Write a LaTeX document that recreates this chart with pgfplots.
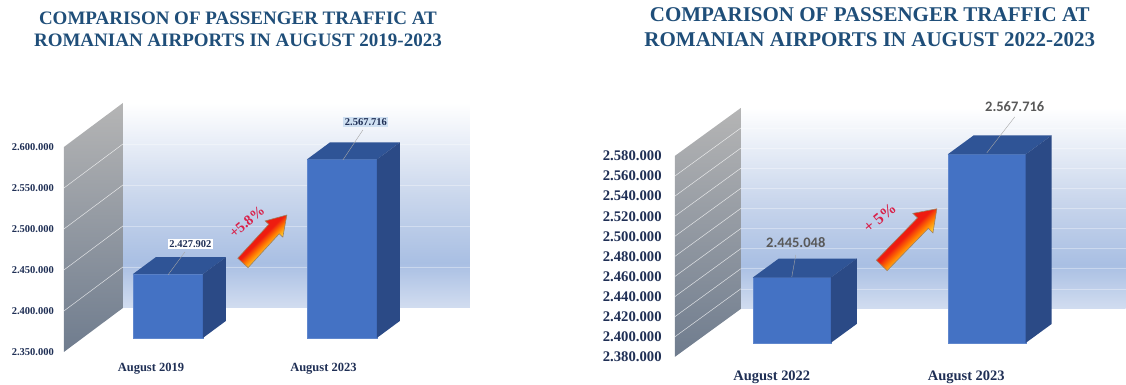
\documentclass[border=0pt]{standalone}
\usepackage{fontspec}
\setmainfont{Liberation Serif}
\newfontfamily\carlito{Carlito}
\usepackage{pgfplots}
\pgfplotsset{compat=1.18}

\definecolor{titleblue}{HTML}{1F4E79}
\definecolor{ticknavy}{HTML}{1F2F55}
\definecolor{barfront}{HTML}{4472C4}
\definecolor{bartop}{HTML}{2F5496}
\definecolor{barside}{HTML}{2B4A86}
\definecolor{valuegray}{HTML}{595959}
\definecolor{gainred}{HTML}{D9214A}
\definecolor{labelblue}{HTML}{CFE0F2}
\definecolor{arrowred}{HTML}{EE1C10}
\definecolor{arroworange}{HTML}{FF7A00}
\definecolor{arrowyellow}{HTML}{FFC62A}

% Back wall and side wall of the chart box (25bp..75bp spans the filled path)
\definecolor{backA}{HTML}{D2DDF0}
\definecolor{backB}{HTML}{A9BFE3}
\definecolor{backC}{HTML}{C9D6EC}
\definecolor{sideA}{HTML}{6F7C8E}
\definecolor{sideB}{HTML}{B5B5B5}
\pgfdeclareverticalshading{backwall}{100bp}{color(0bp)=(backA); color(25bp)=(backA); color(36bp)=(backB); color(52bp)=(backC); color(75bp)=(white); color(100bp)=(white)}
\pgfdeclareverticalshading{sidewall}{100bp}{color(0bp)=(sideA); color(25bp)=(sideA); color(75bp)=(sideB); color(100bp)=(sideB)}
% Tight colour band across the shaft of the gain arrows
\pgfdeclareverticalshading{gainfade}{100bp}{color(0bp)=(arrowyellow); color(41bp)=(arrowyellow); color(47bp)=(arroworange); color(53bp)=(arrowred); color(100bp)=(arrowred)}

\pgfplotsset{
  panel/.style={
    scale only axis, clip=false, scaled y ticks=false,
    axis line style={draw=none}, tick style={draw=none}, major tick length=0pt,
    /pgf/number format/fixed,
    /pgf/number format/precision=0,
    /pgf/number format/1000 sep={.},
    /pgf/number format/assume math mode=true,
  },
}

% One bar: front face, top face and side face
% #1,#2 front left/right x; #3,#4 rear left/right x; #5,#6 base and value; #7,#8 the same at the rear
\newcommand{\barbox}[8]{%
  \addplot[fill=barfront, draw=barfront!85!white, line width=0.4pt] coordinates {(#1,#5) (#2,#5) (#2,#6) (#1,#6)} -- cycle;
  \addplot[fill=bartop, draw=none] coordinates {(#1,#6) (#2,#6) (#4,#8) (#3,#8)} -- cycle;
  \addplot[fill=barside, draw=none] coordinates {(#2,#5) (#4,#7) (#4,#8) (#2,#6)} -- cycle;
}
% One grid line across the side wall and the back wall
% #1 front value, #2 the same level on the back wall, #3 wall corner x, #4 front x, #5 right end
\newcommand{\wallline}[5]{%
  \addplot[white, line width=0.5pt, opacity=0.75] coordinates {(#4,#1) (#3,#2)};
  \addplot[white, line width=0.6pt, opacity=0.35] coordinates {(#3,#2) (#5,#2)};
}
% Block arrow along the local x axis, length #1, shaft half-width #2, head half-width #3, head length #4
\newcommand{\gainarrow}[4]{%
  \path[shade, shading=gainfade, shading angle=45, draw=brown!50!gray, line width=0.6pt]
    (0,-#2) -- ({#1-#4},-#2) -- ({#1-#4},-#3) -- (#1,0) -- ({#1-#4},#3) -- ({#1-#4},#2) -- (0,#2) -- cycle;
}

\begin{document}
\begin{tikzpicture}[x=1pt, y=1pt]
\path (0,0) rectangle (1126,385);

% ---- left panel: August 2019 against August 2023 ----
\begin{axis}[panel, at={(64pt,33pt)}, anchor=south west, width=406pt, height=252pt,
    xmin=64, xmax=470, ymin=2350000, ymax=2657317,
    xtick={151,323.5}, xticklabels={August 2019,August 2023},
    ytick={2350000,2400000,2450000,2500000,2550000,2600000},
    yticklabel style={font=\fontsize{10.5}{12}\selectfont\bfseries, text=ticknavy, anchor=east, inner sep=0pt, xshift=-10pt},
    xticklabel style={font=\fontsize{12.5}{14}\selectfont\bfseries, text=ticknavy, anchor=center, inner sep=0pt, yshift=-16.5pt}]
  \path[shade, shading=backwall] (axis cs:123,2403660) rectangle (axis cs:470,2653660);
  \path[shade, shading=sidewall] (axis cs:64,2350000) -- (axis cs:123,2403660) -- (axis cs:123,2653660) -- (axis cs:64,2600000) -- cycle;
  \wallline{2400000}{2453660}{123}{64}{470}
  \wallline{2450000}{2503660}{123}{64}{470}
  \wallline{2500000}{2553660}{123}{64}{470}
  \wallline{2550000}{2603660}{123}{64}{470}
\end{axis}
\begin{axis}[panel, hide axis, at={(64pt,33pt)}, anchor=south west, width=406pt, height=252pt,
    xmin=64, xmax=470, ymin=2332927, ymax=2640244]
  \barbox{133}{203}{156}{226}{2350000}{2427902}{2370730}{2448632}
  \barbox{307}{377}{330}{400}{2350000}{2567716}{2370730}{2588446}
\end{axis}

% ---- right panel: August 2022 against August 2023 ----
\begin{axis}[panel, at={(675pt,28pt)}, anchor=south west, width=451pt, height=257pt,
    xmin=675, xmax=1126, ymin=2380000, ymax=2635721,
    xtick={772,966.5}, xticklabels={August 2022,August 2023},
    ytick={2380000,2400000,2420000,2440000,2460000,2480000,2500000,2520000,2540000,2560000,2580000},
    yticklabel style={font=\fontsize{14.7}{16}\selectfont\bfseries, text=ticknavy, anchor=east, inner sep=0pt, xshift=-13pt},
    xticklabel style={font=\fontsize{14.5}{16}\selectfont\bfseries, text=ticknavy, anchor=center, inner sep=0pt, yshift=-20pt}]
  \path[shade, shading=backwall] (axis cs:741,2427760) rectangle (axis cs:1126,2627760);
  \path[shade, shading=sidewall] (axis cs:675,2380000) -- (axis cs:741,2427760) -- (axis cs:741,2627760) -- (axis cs:675,2580000) -- cycle;
  \wallline{2400000}{2447760}{741}{675}{1126}
  \wallline{2420000}{2467760}{741}{675}{1126}
  \wallline{2440000}{2487760}{741}{675}{1126}
  \wallline{2460000}{2507760}{741}{675}{1126}
  \wallline{2480000}{2527760}{741}{675}{1126}
  \wallline{2500000}{2547760}{741}{675}{1126}
  \wallline{2520000}{2567760}{741}{675}{1126}
  \wallline{2540000}{2587760}{741}{675}{1126}
  \wallline{2560000}{2607760}{741}{675}{1126}
\end{axis}
\begin{axis}[panel, hide axis, at={(675pt,28pt)}, anchor=south west, width=451pt, height=257pt,
    xmin=675, xmax=1126, ymin=2366070, ymax=2621791]
  \barbox{753}{831}{779}{857}{2380000}{2445048}{2398905}{2463953}
  \barbox{948}{1026}{974}{1052}{2380000}{2567716}{2398905}{2586621}
\end{axis}

% ---- titles, value labels, leader lines, gain arrows ----
\begin{scope}[shift={(0,385)}, y=-1pt]
  \node[font=\fontsize{19}{21}\selectfont\bfseries, text=titleblue] at (238,18) {COMPARISON OF PASSENGER TRAFFIC AT};
  \node[font=\fontsize{19}{21}\selectfont\bfseries, text=titleblue] at (238,40) {ROMANIAN AIRPORTS IN AUGUST 2019-2023};
  \node[font=\fontsize{21}{23}\selectfont\bfseries, text=titleblue] at (870,15) {COMPARISON OF PASSENGER TRAFFIC AT};
  \node[font=\fontsize{21}{23}\selectfont\bfseries, text=titleblue] at (870,40) {ROMANIAN AIRPORTS IN AUGUST 2022-2023};

  \draw[gray!70, line width=0.4pt] (168,275) -- (185,252);
  \draw[gray!70, line width=0.4pt] (343,160) -- (363,130);
  \draw[gray!70, line width=0.4pt] (792,277) -- (796,255);
  \draw[gray!70, line width=0.4pt] (987,153) -- (1015,117);

  \node[fill=white, inner sep=1.5pt, font=\fontsize{10.5}{12}\selectfont\bfseries, text=ticknavy] at (190.5,244) {2.427.902};
  \node[fill=labelblue, inner sep=1.5pt, font=\fontsize{10.5}{12}\selectfont\bfseries, text=ticknavy] at (366,122) {2.567.716};
  \node[font=\carlito\fontsize{14.5}{16}\selectfont\bfseries, text=valuegray] at (796,243) {2.445.048};
  \node[font=\carlito\fontsize{14.5}{16}\selectfont\bfseries, text=valuegray] at (1015,107) {2.567.716};

  \node[rotate=40, inner sep=0pt, font=\fontsize{14.5}{16}\selectfont\bfseries, text=gainred] at (247,222) {+5.8\%};
  \node[rotate=40, inner sep=0pt, font=\fontsize{16}{18}\selectfont\bfseries, text=gainred] at (880,218) {+ 5\%};
\end{scope}

\begin{scope}[shift={(243,122)}, rotate=47.5]
  \gainarrow{65}{7}{12}{19}
\end{scope}
\begin{scope}[shift={(882,119.5)}, rotate=45.8]
  \gainarrow{79}{7.5}{14}{20}
\end{scope}
\end{tikzpicture}
\end{document}
